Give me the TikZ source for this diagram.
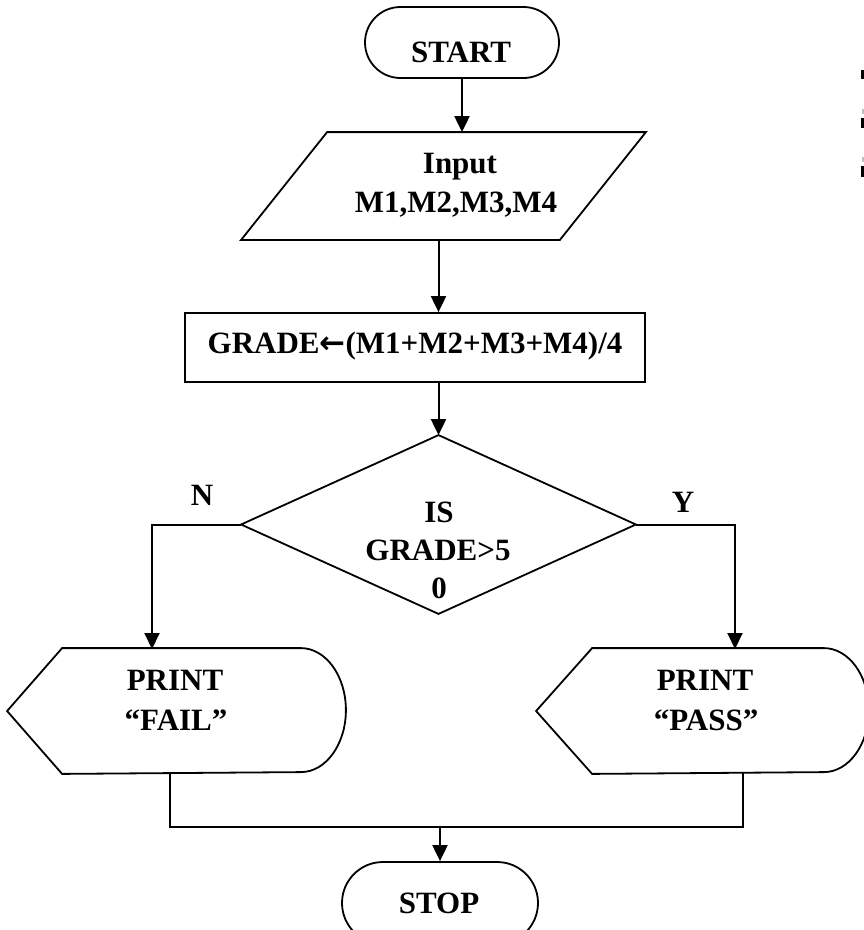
\documentclass[tikz,border=0pt]{standalone}
\usepackage{fontspec}
\setmainfont{Liberation Serif}
\newfontfamily\arrowfont{DejaVu Sans}
\usetikzlibrary{calc,arrows.meta,shapes.misc}
\begin{document}
\begin{tikzpicture}[x=1pt,y=-1pt,line width=1.8pt,
  txt/.style={font=\fontsize{31}{39}\selectfont\bfseries,inner sep=0pt,anchor=base},
  frame/.style={draw=none,inner sep=0pt},
  term/.style={draw,rounded rectangle,inner sep=0pt},
  arr/.style={line width=2pt,-{Triangle[length=16pt,width=15pt]}},
  link/.style={line width=2pt}]
\useasboundingbox (0,0) rectangle (864,930);

% terminals
\node[term,minimum width=194pt,minimum height=71pt] (start) at (462,42.5) {};
\node[txt] (tstart) at (461,62) {START};
\node[term,minimum width=196pt,minimum height=82pt] (stop) at (440,903) {};
\node[txt] (tstop) at (439,913) {STOP};

% input parallelogram
\node[frame,minimum width=403pt,minimum height=106pt] (inp) at (443.5,186) {};
\draw ($(inp.north west)+(86,0)$) -- (inp.north east)
      -- ($(inp.south east)+(-86,0)$) -- (inp.south west) -- cycle;
\node[txt] (tin1) at (460,173) {Input};
\node[txt] (tin2) at (456,212) {M1,M2,M3,M4};

% process box
\node[frame,draw,minimum width=460pt,minimum height=69pt] (calc) at (415,347.5) {};
\node[txt] (tcalc) at (415,353) {GRADE{\arrowfont\bfseries ←}(M1+M2+M3+M4)/4};

% decision
\node[frame,minimum width=393pt,minimum height=177pt] (dia) at (438.5,524.5) {};
\draw (dia.north) -- (dia.east) -- (dia.south) -- (dia.west) -- cycle;
\node[txt] (td1) at (439,522) {IS};
\node[txt] (td2) at (438,560) {GRADE>5};
\node[txt] (td3) at (439,598) {0};

% display shapes
\node[frame,minimum width=337pt,minimum height=124pt] (fail) at (176.5,711) {};
\draw (fail.west) -- ($(fail.north west)+(55,0)$) -- ($(fail.north east)+(-45,0)$)
      arc[start angle=90,end angle=-90,x radius=45pt,y radius=62pt]
      -- ($(fail.south west)+(55,0)$) -- cycle;
\node[txt] (tf1) at (175,690) {PRINT};
\node[txt] (tf2) at (176,730) {“FAIL”};

\node[frame,minimum width=331pt,minimum height=124pt] (pass) at (702.5,711) {};
\draw (pass.west) -- ($(pass.north west)+(56,0)$) -- ($(pass.north east)+(-45,0)$)
      arc[start angle=90,end angle=-90,x radius=45pt,y radius=62pt]
      -- ($(pass.south west)+(56,0)$) -- cycle;
\node[txt] (tp1) at (705,690) {PRINT};
\node[txt] (tp2) at (706,730) {“PASS”};

% branch labels
\node[txt] (lN) at (202,505) {N};
\node[txt] (lY) at (683,512) {Y};

% connector end points on the shapes
\coordinate (failin) at (152,649);
\coordinate (passin) at (735,649);
\coordinate (failout) at (170,773);
\coordinate (passout) at (743,773);
\coordinate (join) at (440,827);

% connectors
\draw[arr] (start.south) -- (start.south |- inp.north);
\draw[arr] (dia.north |- inp.south) -- (dia.north |- calc.north);
\draw[arr] (dia.north |- calc.south) -- (dia.north);
\draw[arr] (dia.west) -| (failin);
\draw[arr] (dia.east) -| (passin);
\draw[link] (failout) |- (join) -| (passout);
\draw[arr] (join) -- (stop.north);

% small marks at the right edge
\fill (861,70) rectangle (864,79);
\fill (861,118) rectangle (864,128);
\fill (861,166) rectangle (864,177);
\fill[black!25] (862,109) rectangle (864,114);
\fill[black!25] (862,157) rectangle (864,162);
\end{tikzpicture}
\end{document}
